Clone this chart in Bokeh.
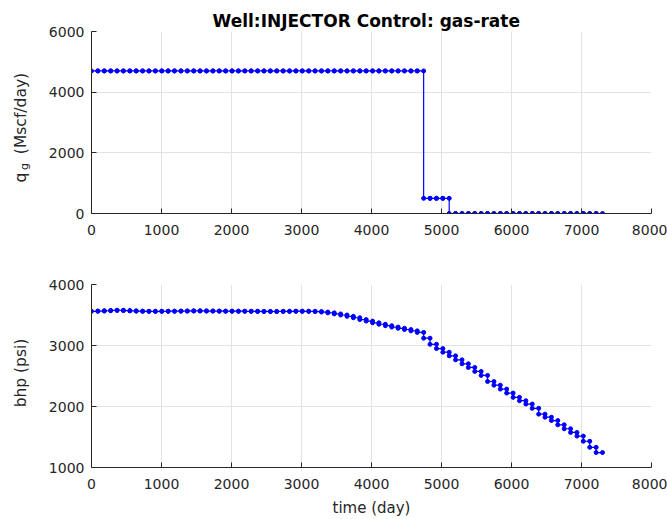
import math
from bokeh.plotting import figure
from bokeh.layouts import column, row
from bokeh.models import Range1d, FixedTicker, Label
from bokeh.embed import file_html
from bokeh.resources import INLINE

# ---------------- data ----------------
# report-step boundaries (days)
t_edges = [0, 91, 183, 274, 365, 456, 548, 639, 730, 821, 913, 1004, 1095, 1186,
           1278, 1369, 1460, 1551, 1643, 1734, 1825, 1916, 2008, 2099, 2190, 2281,
           2373, 2464, 2555, 2646, 2738, 2829, 2920, 3011, 3103, 3194, 3285, 3376,
           3468, 3559, 3650, 3741, 3833, 3924, 4015, 4106, 4198, 4289, 4380, 4471,
           4563, 4654, 4745, 4836, 4928, 5019, 5110, 5201, 5293, 5384, 5475, 5566,
           5658, 5749, 5840, 5931, 6023, 6114, 6205, 6296, 6388, 6479, 6570, 6661,
           6753, 6844, 6935, 7026, 7118, 7209, 7300]

# gas rate per step (Mscf/day)
qg_values = [4700, 4700, 4700, 4700, 4700, 4700, 4700, 4700, 4700, 4700,
             4700, 4700, 4700, 4700, 4700, 4700, 4700, 4700, 4700, 4700,
             4700, 4700, 4700, 4700, 4700, 4700, 4700, 4700, 4700, 4700,
             4700, 4700, 4700, 4700, 4700, 4700, 4700, 4700, 4700, 4700,
             4700, 4700, 4700, 4700, 4700, 4700, 4700, 4700, 4700, 4700,
             4700, 4700, 500, 500, 500, 500, 0, 0, 0, 0,
             0, 0, 0, 0, 0, 0, 0, 0, 0, 0,
             0, 0, 0, 0, 0, 0, 0, 0, 0, 0]

# bottom-hole pressure per step (psi)
bhp_values = [3561, 3565, 3570, 3575, 3578, 3572, 3568, 3563, 3561, 3560,
              3560, 3561, 3562, 3563, 3564, 3566, 3568, 3567, 3565, 3564,
              3563, 3563, 3562, 3562, 3561, 3560, 3559, 3558, 3557, 3558,
              3560, 3561, 3562, 3561, 3560, 3556, 3548, 3535, 3518, 3500,
              3478, 3455, 3425, 3400, 3372, 3348, 3325, 3302, 3282, 3262,
              3240, 3215, 3120, 3020, 2950, 2890, 2830, 2765, 2700, 2640,
              2575, 2510, 2410, 2350, 2285, 2220, 2150, 2095, 2040, 1970,
              1875, 1825, 1770, 1700, 1635, 1575, 1515, 1430, 1330, 1245]

x_ticks = [0, 1000, 2000, 3000, 4000, 5000, 6000, 7000, 8000]
qg_ticks = [0, 2000, 4000, 6000]
bhp_ticks = [1000, 2000, 3000, 4000]

title_text = "Well:INJECTOR Control: gas-rate"
xlabel_text = "time (day)"
ylabel_top = "(Mscf/day)"
ylabel_bottom = "bhp (psi)"

# ---------------- styling ----------------
FONT = "DejaVu Sans"
AX = "#262626"
GRID = "#E3E3E3"
BLUE = "#0000FF"


def step_xy(edges, vals):
    xs, ys = [], []
    for k, v in enumerate(vals):
        xs += [edges[k], edges[k + 1]]
        ys += [v, v]
    return xs, ys


def make_fig(y0, y1, yticks, top, bottom, fh):
    p = figure(frame_width=560, frame_height=fh,
               min_border_left=51, min_border_right=16,
               min_border_top=top, min_border_bottom=bottom,
               x_range=Range1d(0, 8000), y_range=Range1d(y0, y1),
               output_backend="svg", toolbar_location=None)
    p.outline_line_color = None
    p.background_fill_color = "white"
    p.border_fill_color = "white"
    p.xaxis.ticker = FixedTicker(ticks=x_ticks)
    p.yaxis.ticker = FixedTicker(ticks=yticks)
    for ax in (p.xaxis[0], p.yaxis[0]):
        ax.axis_line_color = AX
        ax.axis_line_width = 1
        ax.major_tick_line_color = AX
        ax.major_tick_in = 5
        ax.major_tick_out = 0
        ax.minor_tick_line_color = None
        ax.major_label_text_font = FONT
        ax.major_label_text_font_size = "14px"
        ax.major_label_text_color = AX
        ax.axis_label_text_font = FONT
        ax.axis_label_text_font_size = "15px"
        ax.axis_label_text_font_style = "normal"
        ax.axis_label_text_color = AX
    p.xaxis.major_label_standoff = 11
    p.yaxis.major_label_standoff = 7
    p.xgrid.grid_line_color = GRID
    p.ygrid.grid_line_color = GRID
    p.xgrid.grid_line_width = 1
    p.ygrid.grid_line_width = 1
    return p


# top figure
p1 = make_fig(0, 6000, qg_ticks, 31, 28, 182)
xs, ys = step_xy(t_edges, qg_values)
p1.line(xs, ys, line_color=BLUE, line_width=1.2)
p1.scatter(xs, ys, size=4, color=BLUE)
p1.title.text = title_text
p1.title.align = "left"
p1.title.offset = 121
p1.title.standoff = 2
p1.title.text_font = FONT
p1.title.text_font_size = "17px"
p1.title.text_font_style = "bold"
p1.title.text_color = "#000000"

# bottom figure
p2 = make_fig(1000, 4000, bhp_ticks, 43, 52, 183)
xs2, ys2 = step_xy(t_edges, bhp_values)
p2.line(xs2, ys2, line_color=BLUE, line_width=1.2)
p2.scatter(xs2, ys2, size=4, color=BLUE)
p2.xaxis.axis_label = xlabel_text
p2.xaxis.axis_label_standoff = 7

# strip on the left carrying the rotated y-axis titles
lab = figure(frame_width=40, frame_height=519, min_border=0,
             x_range=Range1d(0, 40), y_range=Range1d(0, 519),
             x_axis_type=None, y_axis_type=None,
             output_backend="svg", toolbar_location=None)
lab.outline_line_color = None
lab.background_fill_color = "white"
lab.border_fill_color = "white"


def ylab(text, x, y, size):
    lab.add_layout(Label(x=x, y=y, text=text, angle=math.pi / 2,
                         text_align="center", text_baseline="alphabetic",
                         text_font=FONT, text_font_size=size, text_color=AX))


ylab(ylabel_top, 20, 406, "15.5px")
ylab("q", 20, 342, "15.5px")
ylab("g", 23.5, 353, "11px")
ylab(ylabel_bottom, 20, 146.5, "15.5px")

layout = row(lab, column(p1, p2, spacing=0), spacing=0)
open("out.html", "w").write(file_html(layout, INLINE))
